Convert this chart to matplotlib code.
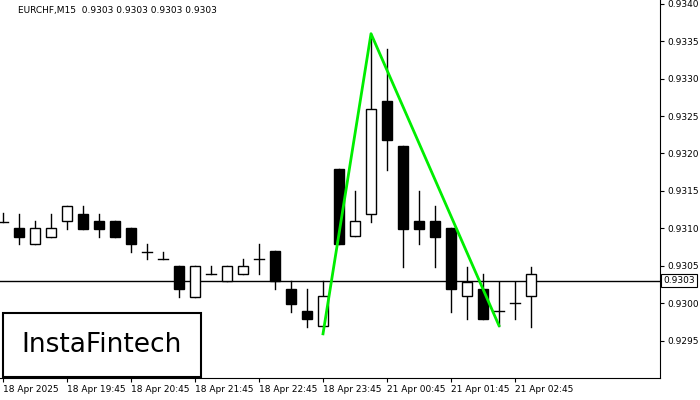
import matplotlib
matplotlib.use('Agg')
import matplotlib.pyplot as plt
from matplotlib.patches import Rectangle

# OHLC values (EURCHF M15)
opens = [0.93109, 0.93101, 0.93079, 0.93089, 0.93110, 0.93119, 0.93110, 0.93110, 0.93101, 0.93068,
         0.93059, 0.93050, 0.93008, 0.93039, 0.93030, 0.93039, 0.93059, 0.93070, 0.93019, 0.92990,
         0.92970, 0.93179, 0.93090, 0.93119, 0.93270, 0.93210, 0.93110, 0.93110, 0.93101, 0.93010,
         0.93019, 0.92990, 0.93000, 0.93010]
highs = [0.93121, 0.93119, 0.93110, 0.93119, 0.93130, 0.93130, 0.93119, 0.93110, 0.93101, 0.93079,
         0.93068, 0.93050, 0.93050, 0.93050, 0.93050, 0.93059, 0.93079, 0.93070, 0.93030, 0.93019,
         0.93030, 0.93179, 0.93150, 0.93360, 0.93340, 0.93210, 0.93150, 0.93130, 0.93101, 0.93048,
         0.93039, 0.93028, 0.93028, 0.93048]
lows = [0.93109, 0.93079, 0.93079, 0.93089, 0.93099, 0.93099, 0.93089, 0.93089, 0.93068, 0.93059,
        0.93059, 0.93008, 0.93008, 0.93039, 0.93030, 0.93039, 0.93039, 0.93019, 0.92988, 0.92968,
        0.92970, 0.93079, 0.93090, 0.93109, 0.93178, 0.93048, 0.93079, 0.93048, 0.92988, 0.92979,
        0.92979, 0.92970, 0.92979, 0.92968]
closes = [0.93109, 0.93089, 0.93101, 0.93101, 0.93130, 0.93099, 0.93099, 0.93089, 0.93079, 0.93068,
          0.93059, 0.93019, 0.93050, 0.93039, 0.93050, 0.93050, 0.93059, 0.93030, 0.92999, 0.92979,
          0.93010, 0.93079, 0.93110, 0.93260, 0.93218, 0.93099, 0.93099, 0.93089, 0.93019, 0.93028,
          0.92979, 0.92990, 0.93000, 0.93039]

# pattern line (bar index, price)
pattern_x = [20, 23, 31]
pattern_y = [0.92959, 0.93360, 0.92970]

last_price = 0.9303
tick_pos = [0, 4, 8, 12, 16, 20, 24, 28, 32]
tick_labels = ['18 Apr 2025', '18 Apr 19:45', '18 Apr 20:45', '18 Apr 21:45', '18 Apr 22:45',
               '18 Apr 23:45', '21 Apr 00:45', '21 Apr 01:45', '21 Apr 02:45']
price_ticks = [0.9295, 0.9300, 0.9305, 0.9310, 0.9315, 0.9320, 0.9325, 0.9330, 0.9335, 0.9340]

fig = plt.figure(figsize=(7, 4), dpi=100)
ax = fig.add_axes([0, 0.055, 660 / 700, 0.945])
ax.set_xlim(-3 / 16, 657 / 16)
ax.set_ylim(0.9290, 0.93405)

w = 0.62
for i, (o, h, l, c) in enumerate(zip(opens, highs, lows, closes)):
    ax.plot([i, i], [l, h], color='black', lw=1, zorder=2)
    bot, top = min(o, c), max(o, c)
    if top - bot < 0.00002:
        ax.plot([i - w / 2, i + w / 2], [o, o], color='black', lw=1, zorder=3)
    else:
        ax.add_patch(Rectangle((i - w / 2, bot), w, top - bot, lw=1, edgecolor='black',
                               facecolor='black' if c < o else 'white', zorder=3))

ax.axhline(last_price, color='black', lw=1, zorder=1)
ax.plot(pattern_x, pattern_y, color='#00ee00', lw=2, zorder=4)

ax.yaxis.tick_right()
ax.set_yticks(price_ticks)
ax.set_yticklabels([f'{p:.4f}' for p in price_ticks], fontsize=6.5)
ax.set_xticks(tick_pos)
ax.set_xticklabels(tick_labels, fontsize=6.5, ha='left')
ax.tick_params(length=3, width=0.8, pad=2)
for s in ['top', 'left']:
    ax.spines[s].set_visible(False)

ax.text(last_price and 1.005, last_price, f'{last_price:.4f}', transform=ax.get_yaxis_transform(),
        fontsize=6.5, va='center', ha='left',
        bbox=dict(boxstyle='square,pad=0.25', fc='white', ec='black', lw=0.8))

fig.text(18 / 700, 1 - 10 / 400, 'EURCHF,M15  0.9303 0.9303 0.9303 0.9303', fontsize=6.5, va='center')

fig.patches.append(Rectangle((3 / 700, 1 - 377 / 400), 198 / 700, 64 / 400, transform=fig.transFigure,
                             fc='white', ec='black', lw=1.5, zorder=5))
fig.text(102 / 700, 1 - 345 / 400, 'InstaFintech', fontsize=19, ha='center', va='center', zorder=6)

fig.savefig('out.png')
